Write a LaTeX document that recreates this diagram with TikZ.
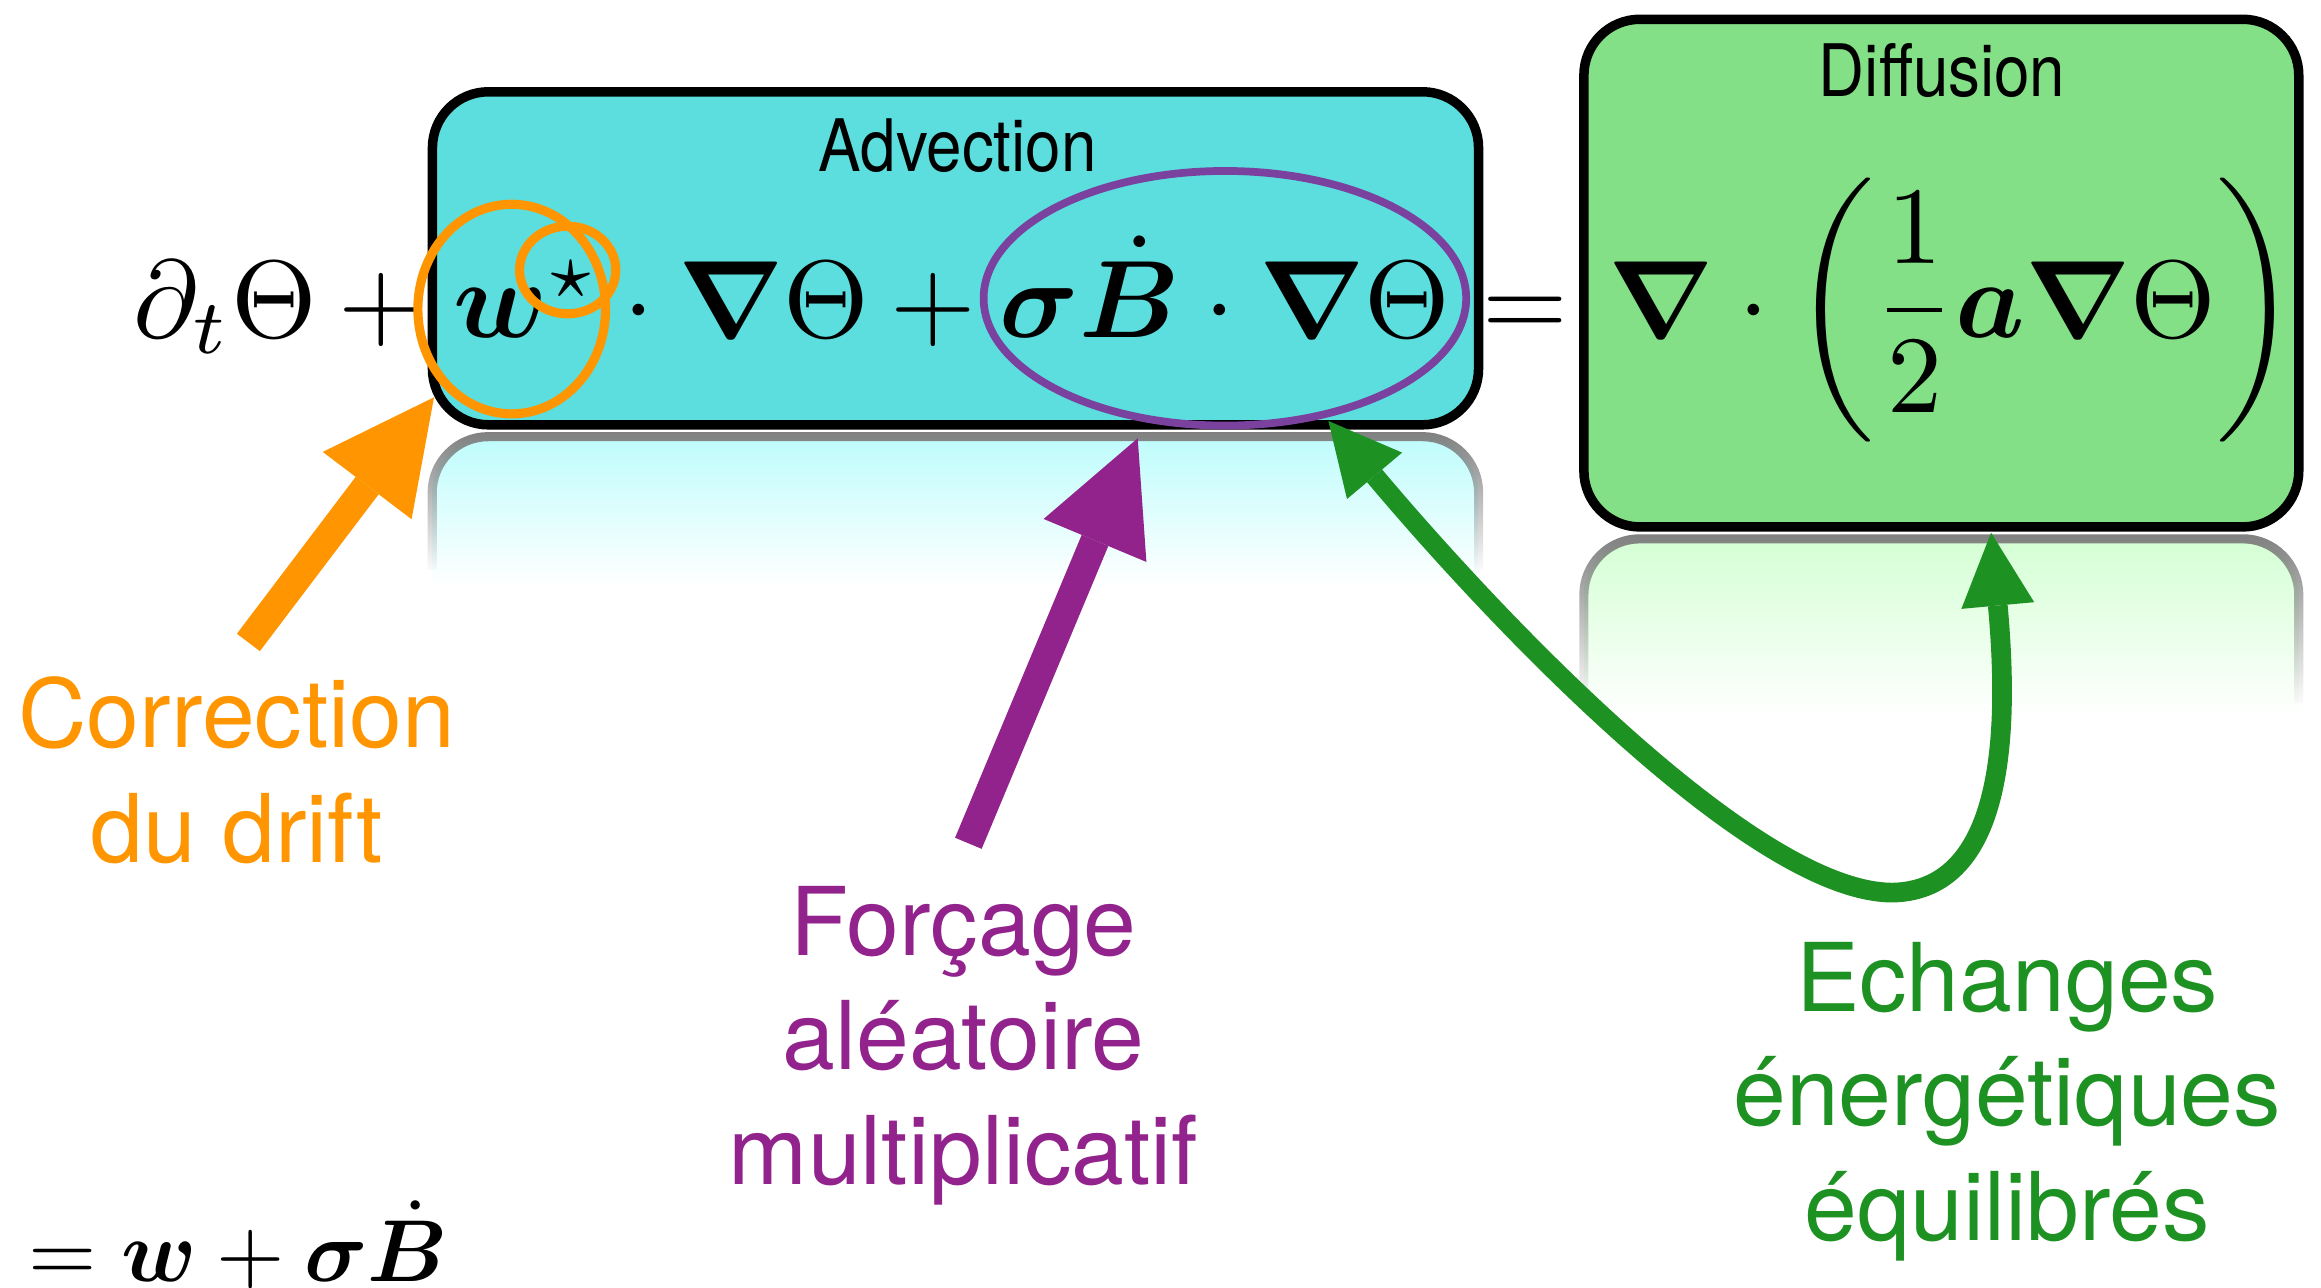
\documentclass[tikz,border=0pt]{standalone}
\usepackage{amsmath,bm}
\usepackage{fontspec}
\usetikzlibrary{arrows.meta,fadings}
\newfontfamily\labelfont{TeX Gyre Heros}
\newfontfamily\boxfont[FakeStretch=0.88]{TeX Gyre Heros}
\definecolor{advc}{RGB}{92,222,222}
\definecolor{difc}{RGB}{132,224,134}
\definecolor{reflA}{RGB}{190,252,252}
\definecolor{reflB}{RGB}{212,255,212}
\definecolor{orng}{RGB}{255,149,0}
\definecolor{purp}{RGB}{146,34,140}
\definecolor{purpel}{RGB}{122,66,158}
\definecolor{grn}{RGB}{30,145,35}
\tikzfading[name=fadedown, top color=transparent!0, bottom color=transparent!100]
\tikzset{
  boxnode/.style={draw=black, line width=2.7pt, rounded corners=0.56cm, inner sep=0pt},
  eqn/.style={anchor=base west, inner sep=0pt},
  lbl/.style={font=\labelfont\fontsize{27}{32.6}\selectfont, align=center, inner sep=0pt, anchor=base},
  ttl/.style={font=\boxfont\fontsize{20.6}{24}\selectfont, inner sep=0pt, anchor=base},
  bigarrow/.style={line width=8.2pt, -{Triangle[length=31.5pt,width=31.7pt,line width=0pt]}},
  reflfill/.style={rounded corners=0.56cm, path fading=fadedown},
  refldraw/.style={draw=black!50, line width=2.6pt, rounded corners=0.56cm, path fading=fadedown}
}
\begin{document}
\begin{tikzpicture}[x=0.0148cm, y=-0.0148cm]
\useasboundingbox (0,0) rectangle (1568,870);
% reflections
\fill[reflA, reflfill] (292,395) -- (292,295) -- (999,295) -- (999,395);
\draw[refldraw] (292,385) -- (292,295) -- (999,295) -- (999,385);
\fill[reflB, reflfill] (1070,485) -- (1070,364) -- (1553,364) -- (1553,485);
\draw[refldraw] (1070,475) -- (1070,364) -- (1553,364) -- (1553,475);
% boxes
\node[boxnode, fill=advc, minimum width=10.46cm, minimum height=3.33cm] (adv) at (645.5,174.5) {};
\node[boxnode, fill=difc, minimum width=7.148cm, minimum height=5.076cm] (dif) at (1311.5,184.5) {};
\node[ttl] (advt) at (647,116) {Advection};
\node[ttl] (dift) at (1312,65) {Diffusion};
% equation
\node[eqn] (e1) at (90,228) {\scalebox{3.13}{$\partial_t\Theta$}};
\node[eqn] (e2) at (228,228) {\scalebox{3.13}{$+$}};
\node[eqn] (e3) at (306,228) {\scalebox{3.13}{$\boldsymbol{w}^{\star}\cdot\boldsymbol{\nabla}\Theta$}};
\node[eqn] (e4) at (601,228) {\scalebox{3.13}{$+$}};
\node[eqn] (e5) at (675,228) {\scalebox{3.13}{$\boldsymbol{\sigma}\dot{\boldsymbol{B}}\cdot\boldsymbol{\nabla}\Theta$}};
\node[eqn] (e6) at (1001,228) {\scalebox{3.13}{$=$}};
\node[eqn] (e7) at (1086,228) {\scalebox{3.13}{$\displaystyle\boldsymbol{\nabla}\cdot\left(\frac{1}{2}\boldsymbol{a}\boldsymbol{\nabla}\Theta\right)$}};
\node[eqn] (e8) at (18.7,866) {\scalebox{2.5}{$=\boldsymbol{w}+\boldsymbol{\sigma}\dot{\boldsymbol{B}}$}};
% highlight ellipses
\draw[orng, line width=2.6pt] (345.7,208.8) ellipse [x radius=63.4, y radius=70.8];
\draw[orng, line width=2.6pt] (383.5,182.4) ellipse [x radius=32.5, y radius=29.6];
\draw[purpel, line width=2.2pt] (827.5,201.5) ellipse [x radius=163, y radius=86];
% labels (anchor = baseline of last line)
\node[lbl, orng] (corr) at (160,582.5) {Correction\\du drift};
\node[lbl, purp] (forc) at (651,800) {Forçage\\aléatoire\\multiplicatif};
\node[lbl, grn] (ech) at (1356,838) {Echanges\\énergétiques\\équilibrés};
% arrows
\coordinate (otail) at (167.8,434);
\coordinate (otip) at (293.2,268.4);
\coordinate (ptail) at (654.2,569.7);
\coordinate (ptip) at (768.6,296.1);
\coordinate (gtipL) at (897.4,284.4);
\coordinate (gbot) at (1280,603);
\coordinate (gtipR) at (1345.1,359.9);
\draw[orng, bigarrow] (otail) -- (otip);
\draw[purp, bigarrow] (ptail) -- (ptip);
\draw[grn, line width=5.6pt, {Triangle[length=20.4pt,width=20.5pt,line width=0pt]}-{Triangle[length=20.8pt,width=20.8pt,line width=0pt]}]
  (gtipL) .. controls (1020,430) and (1190,605) .. (gbot) .. controls (1352,600) and (1358,500) .. (gtipR);
\end{tikzpicture}
\end{document}
